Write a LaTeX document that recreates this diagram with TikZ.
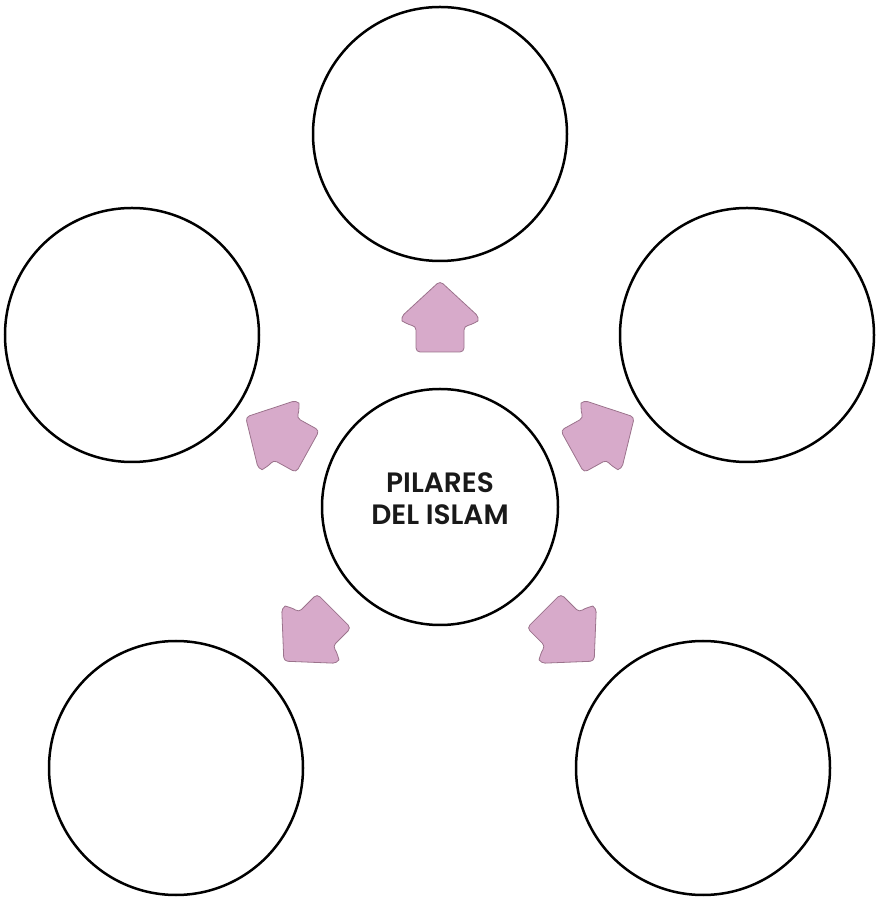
\documentclass[tikz,border=0pt]{standalone}
\usepackage{fontspec}
\setmainfont{Poppins}
\newfontfamily\hubfont{Poppins SemiBold}
\definecolor{pinkfill}{RGB}{215,170,202}
\definecolor{pinkline}{RGB}{155,115,140}
\tikzset{
  ring/.style={circle, draw=black, line width=2.5pt, fill=white, inner sep=0pt},
  bigring/.style={ring, minimum size=254pt},
  hubring/.style={ring, minimum size=236pt},
  parrow/.style={fill=pinkfill, draw=pinkline, line width=0.8pt, rounded corners=4pt},
  hubtext/.style={font=\hubfont\fontsize{28}{32}\selectfont, align=center, text=black!90}
}
\newcommand{\pillararrow}[3]{%
  \begin{scope}[shift={(#1,#2)}, rotate=#3]
    \draw[parrow] (37,0) -- (1,39) .. controls (-3,38) and (-7,31) .. (-8,24)
      -- (-34,24) -- (-34,-24) -- (-8,-24) .. controls (-7,-31) and (-3,-38) .. (1,-39) -- cycle;
  \end{scope}}
\begin{document}
\begin{tikzpicture}[x=1pt,y=1pt]
  \useasboundingbox (0,0) rectangle (879,900);
  \node[hubring] (hub) at (440,393) {};
  \node[hubtext] (title) at (440,401) {PILARES\\DEL ISLAM};
  \node[bigring] (top) at (440,766) {};
  \node[bigring] (left) at (132,565) {};
  \node[bigring] (right) at (747,565) {};
  \node[bigring] (bl) at (176,132) {};
  \node[bigring] (br) at (703,132) {};
  \pillararrow{440}{582}{90}
  \pillararrow{278}{465}{151}
  \pillararrow{602}{465}{29}
  \pillararrow{310}{265}{225}
  \pillararrow{568}{265}{315}
\end{tikzpicture}
\end{document}
